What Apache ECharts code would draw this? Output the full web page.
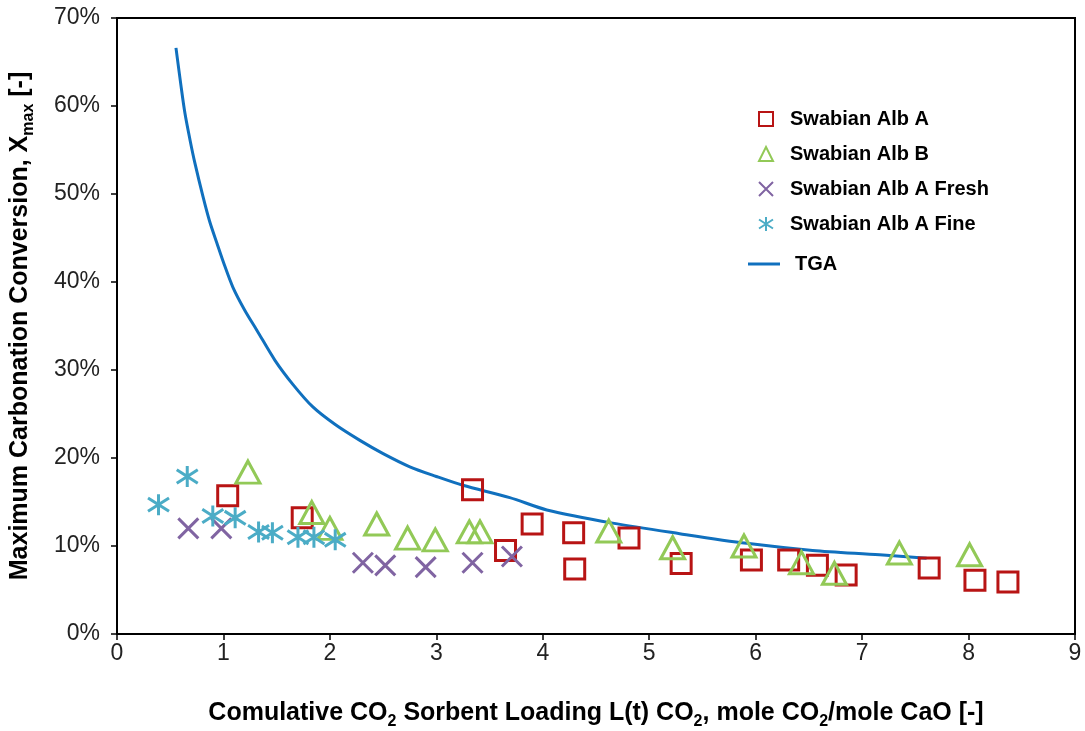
<!DOCTYPE html>
<html><head><meta charset="utf-8">
<script src="https://cdn.jsdelivr.net/npm/echarts@6/dist/echarts.min.js"></script>
<style>html,body{margin:0;padding:0;background:#fff}#c{width:1085px;height:731px}</style>
</head><body><div id="c"></div>
<script>
// Data (x: cumulative loading, y: conversion in %)
const albA = [[1.04,15.7],[1.74,13.2],[3.34,16.4],[3.65,9.5],[3.90,12.5],[4.29,11.5],[4.30,7.4],[4.81,10.9],[5.30,8.0],[5.96,8.4],[6.31,8.4],[6.58,7.8],[6.85,6.7],[7.63,7.5],[8.06,6.1],[8.37,5.9]];
const albB = [[1.23,18.4],[1.83,13.8],[2.00,12.0],[2.44,12.5],[2.73,10.9],[2.99,10.7],[3.31,11.6],[3.41,11.6],[4.62,11.7],[5.22,9.8],[5.89,10.0],[6.43,8.1],[6.74,6.9],[7.35,9.2],[8.01,9.0]];
const albAFresh = [[0.67,12.0],[0.98,12.0],[2.31,8.1],[2.52,7.8],[2.90,7.6],[3.34,8.1],[3.71,8.8]];
const albAFine = [[0.39,14.7],[0.66,17.9],[0.90,13.4],[1.11,13.2],[1.33,11.6],[1.46,11.5],[1.70,11.0],[1.85,11.0],[2.05,10.7]];
const tga = [[0.554,66.6],[0.600,62.4],[0.638,59.2],[0.685,56.2],[0.732,53.5],[0.808,49.7],[0.870,46.9],[0.939,44.4],[1.010,41.9],[1.089,39.4],[1.200,36.8],[1.315,34.5],[1.484,31.1],[1.650,28.4],[1.840,25.8],[2.050,23.8],[2.282,22.0],[2.500,20.5],[2.751,19.0],[3.000,17.9],[3.249,16.9],[3.690,15.5],[4.038,14.1],[4.657,12.6],[5.286,11.4],[5.915,10.3],[6.535,9.5],[7.164,9.0],[7.606,8.6]];
const seriesNames = ['Swabian Alb A','Swabian Alb B','Swabian Alb A Fresh','Swabian Alb A Fine','TGA'];

const FONT = 'Liberation Sans, Arial, sans-serif';
const xPath = 'path://M0,0L10,10M10,0L0,10';
const starPath = 'path://M5,0L5,10M0,1.8L10,8.2M0,8.2L10,1.8';

const chart = echarts.init(document.getElementById('c'), null, {renderer:'canvas'});
const titleRich = {
  b: {fontFamily: FONT, fontWeight: 'bold', fontSize: 25, lineHeight: 34, color: '#000'},
  s: {fontFamily: FONT, fontWeight: 'bold', fontSize: 16, lineHeight: 16, verticalAlign: 'bottom', color: '#000'}
};
chart.setOption({
  animation: false,
  backgroundColor: '#fff',
  grid: {left: 117, right: 10, top: 18, bottom: 97, show: true, borderColor: '#000', borderWidth: 2, outerBoundsMode: 'none', containLabel: false},
  legend: [{
    data: seriesNames.slice(0,4),
    orient: 'vertical', left: 753, top: 104,
    itemWidth: 14, itemHeight: 14, itemGap: 15,
    textStyle: {fontFamily: FONT, fontWeight: 'bold', fontSize: 20, lineHeight: 20, color: '#000', padding: [0,0,0,12]}
  },{
    data: [{name: seriesNames[4], icon: 'rect', itemStyle: {color: '#1070BE'}}],
    orient: 'vertical', left: 743, top: 246,
    itemWidth: 32, itemHeight: 3,
    textStyle: {fontFamily: FONT, fontWeight: 'bold', fontSize: 20, lineHeight: 26, color: '#000', padding: [0,0,0,10]}
  }],
  xAxis: {
    type: 'value', min: 0, max: 9, interval: 1,
    name: '{b|Comulative CO}{s|2}{b| Sorbent Loading L(t) CO}{s|2}{b|, mole CO}{s|2}{b|/mole CaO [-]}',
    nameLocation: 'middle', nameGap: 62,
    nameTextStyle: {rich: titleRich},
    axisLine: {lineStyle: {color: '#000', width: 2}},
    axisTick: {length: 6, lineStyle: {color: '#000', width: 1.5}},
    axisLabel: {fontFamily: FONT, fontSize: 23, color: '#222', margin: 8},
    splitLine: {show: false}
  },
  yAxis: {
    type: 'value', min: 0, max: 70, interval: 10,
    name: '{b|Maximum Carbonation Conversion, X}{s|max}{b| [-]}',
    nameLocation: 'middle', nameGap: 80, nameRotate: 90,
    nameTextStyle: {rich: titleRich},
    axisLine: {lineStyle: {color: '#000', width: 2}},
    axisTick: {length: 6, lineStyle: {color: '#000', width: 1.5}},
    axisLabel: {fontFamily: FONT, fontSize: 23, color: '#222', margin: 17, formatter: '{value}%'},
    splitLine: {show: false}
  },
  series: [
    {name: seriesNames[0], type: 'scatter', data: albA, symbol: 'rect', symbolSize: 20,
     itemStyle: {color: 'rgba(0,0,0,0)', borderColor: '#B81414', borderWidth: 3, opacity: 1}},
    {name: seriesNames[1], type: 'scatter', data: albB, symbol: 'triangle', symbolSize: [24,22],
     itemStyle: {color: 'rgba(0,0,0,0)', borderColor: '#92C957', borderWidth: 3, opacity: 1}},
    {name: seriesNames[2], type: 'scatter', data: albAFresh, symbol: xPath, symbolSize: 20,
     itemStyle: {color: 'rgba(0,0,0,0)', borderColor: '#8064A2', borderWidth: 3, opacity: 1}},
    {name: seriesNames[3], type: 'scatter', data: albAFine, symbol: starPath, symbolSize: 21,
     itemStyle: {color: 'rgba(0,0,0,0)', borderColor: '#4BACC6', borderWidth: 3, opacity: 1}},
    {name: seriesNames[4], type: 'line', data: tga, smooth: 0.3, showSymbol: false, symbol: 'none',
     lineStyle: {color: '#1070BE', width: 3, join: 'round'}, itemStyle: {color: '#1070BE'}, z: 1}
  ]
});
</script></body></html>
